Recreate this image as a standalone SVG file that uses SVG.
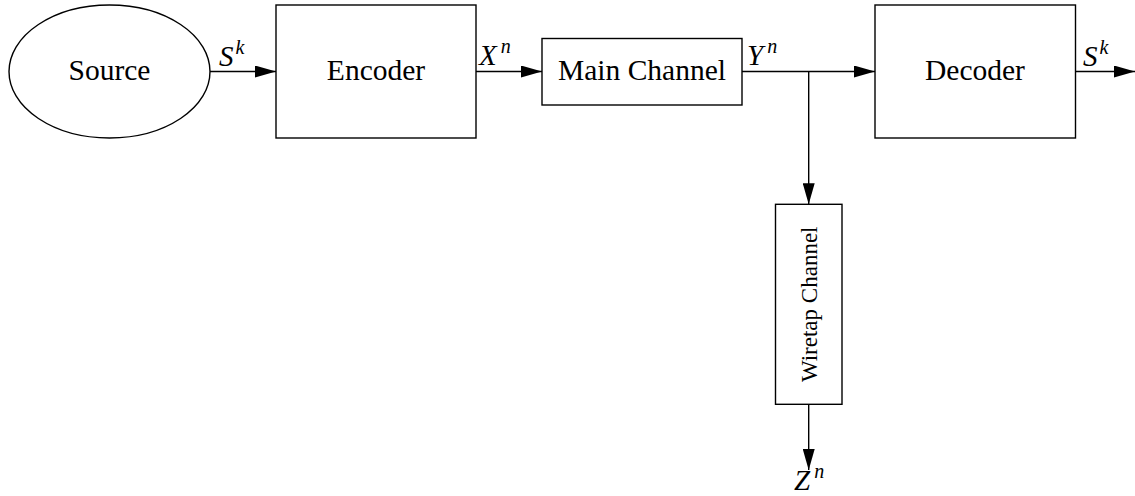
<svg xmlns="http://www.w3.org/2000/svg" width="1135" height="496" viewBox="0 0 1135 496">
<style>
.box{fill:#fff;stroke:#000;stroke-width:1.4}
.ln{fill:none;stroke:#000;stroke-width:1.4}
.lbl{font-family:"Liberation Serif","Times New Roman",serif;font-size:29.5px;fill:#000;text-anchor:middle}
.m{font-family:"Liberation Serif","Times New Roman",serif;font-style:italic;font-size:29px;fill:#000}
.sup{font-size:20px}
</style>
<defs>
<marker id="ah" markerUnits="userSpaceOnUse" markerWidth="22" markerHeight="12" refX="21" refY="6" orient="auto">
<path d="M0,0 L21,6 L0,12 z" fill="#000"/>
</marker>
</defs>
<rect width="1135" height="496" fill="#fff"/>
<g id="connectors">
<line class="ln" x1="210" y1="71.5" x2="276" y2="71.5" marker-end="url(#ah)"/>
<line class="ln" x1="476" y1="71.5" x2="542" y2="71.5" marker-end="url(#ah)"/>
<line class="ln" x1="742" y1="71.5" x2="875" y2="71.5" marker-end="url(#ah)"/>
<line class="ln" x1="808.7" y1="71.5" x2="808.7" y2="204.3" marker-end="url(#ah)"/>
<line class="ln" x1="1076" y1="71.5" x2="1135" y2="71.5" marker-end="url(#ah)"/>
<line class="ln" x1="808.7" y1="404.3" x2="808.7" y2="470" marker-end="url(#ah)"/>
<text class="m" x="219" y="66">S<tspan class="sup" dx="2" dy="-12">k</tspan></text>
<text class="m" x="479" y="65">X<tspan class="sup" dx="4" dy="-12">n</tspan></text>
<text class="m" x="747" y="65">Y<tspan class="sup" dx="4" dy="-12">n</tspan></text>
<text class="m" x="1083" y="66">S<tspan class="sup" dx="2" dy="-12">k</tspan></text>
<text class="m" x="794" y="490">Z<tspan class="sup" dx="4" dy="-12">n</tspan></text>
</g>
<g id="source">
<ellipse class="box" cx="109.5" cy="71.5" rx="100.5" ry="66.5"/>
<text class="lbl" x="109.5" y="80">Source</text>
</g>
<g id="encoder">
<rect class="box" x="276" y="5" width="200" height="133"/>
<text class="lbl" x="376" y="80">Encoder</text>
</g>
<g id="main-channel">
<rect class="box" x="542" y="38.5" width="200" height="66.5"/>
<text class="lbl" x="642" y="80">Main Channel</text>
</g>
<g id="decoder">
<rect class="box" x="875" y="5" width="200.5" height="133"/>
<text class="lbl" x="975" y="80">Decoder</text>
</g>
<g id="wiretap-channel">
<rect class="box" x="775.5" y="204.3" width="66.5" height="200"/>
<text class="lbl" style="font-size:23px" transform="translate(816.5,304.3) rotate(-90)" x="0" y="0">Wiretap Channel</text>
</g>
</svg>
